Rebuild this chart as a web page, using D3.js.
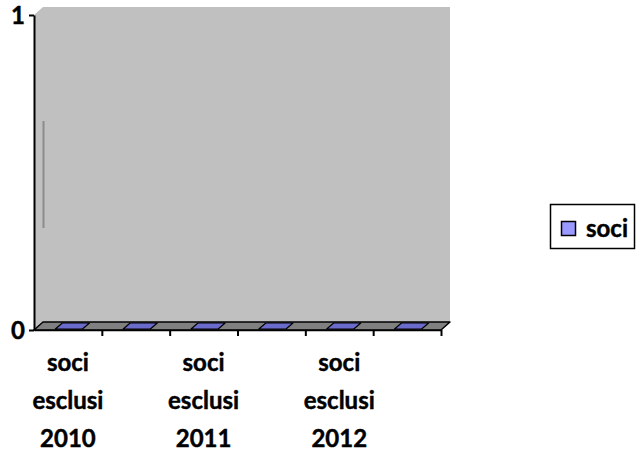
<!DOCTYPE html>
<html>
<head>
<meta charset="utf-8">
<script src="https://cdn.jsdelivr.net/npm/d3@7/dist/d3.min.js"></script>
<style>
  html, body { margin: 0; padding: 0; background: #fff; }
  svg { display: block; }
  text { font-family: Lato, "Open Sans", sans-serif; font-weight: bold; fill: #000; stroke: #000; stroke-width: 0.45px; }
</style>
</head>
<body>
<svg id="chart" width="636" height="456"></svg>
<script>
// ---- data ----
const categories = ["c1", "c2", "c3", "c4", "c5", "c6"];
const tickLabels = ["soci esclusi 2010", "", "soci esclusi 2011", "", "soci esclusi 2012", ""];
const seriesName = "soci";
const values = [0, 0, 0, 0, 0, 0];
const yTicks = [0, 1];

(function () {
// ---- layout ----
const plotL = 34, plotR = 441, plotB = 330, plotT = 15;
const depthX = 9, depthY = 8;

const svg = d3.select("#chart");

const x = d3.scaleBand().domain(categories).range([plotL, plotR]).paddingInner(0.6).paddingOuter(0.3);
const xEdge = d3.scaleLinear().domain([0, categories.length]).range([plotL, plotR]);
const y = d3.scaleLinear().domain([0, 1]).range([plotB, plotT]);

const line = d3.line();

// back wall
svg.append("path")
  .attr("d", line([[plotL + depthX, y(1) - depthY], [plotR + depthX, y(1) - depthY],
                   [plotR + depthX, y(0) - depthY], [plotL + depthX, y(0) - depthY]]) + "Z")
  .attr("fill", "#c0c0c0");
// side wall
svg.append("path")
  .attr("d", line([[plotL, y(1)], [plotL + depthX, y(1) - depthY],
                   [plotL + depthX, y(0) - depthY], [plotL, y(0)]]) + "Z")
  .attr("fill", "#c0c0c0");

// stray grey line on wall
svg.append("line")
  .attr("x1", plotL + depthX + 0.5).attr("x2", plotL + depthX + 0.5)
  .attr("y1", 121).attr("y2", 228)
  .attr("stroke", "#8c8c8c").attr("stroke-width", 2);

// floor
svg.append("path")
  .attr("d", line([[plotL, y(0)], [plotL + depthX, y(0) - depthY],
                   [plotR + depthX, y(0) - depthY], [plotR, y(0)]]) + "Z")
  .attr("fill", "#808080").attr("stroke", "#000").attr("stroke-width", 1.5)
  .attr("stroke-linejoin", "round");

// bars (zero-height: only the top face is visible)
const bfx = 1, bfy = 1, bbx = 8, bby = 7;
svg.append("g").selectAll("path").data(values).join("path")
  .attr("d", (d, i) => {
    const x0 = x(categories[i]), x1 = x0 + x.bandwidth(), yy = y(d);
    return line([[x0 + bfx, yy - bfy], [x1 + bfx, yy - bfy],
                 [x1 + bbx, yy - bby], [x0 + bbx, yy - bby]]) + "Z";
  })
  .attr("fill", "#6b6bcc").attr("stroke", "#000").attr("stroke-width", 1.2)
  .attr("stroke-linejoin", "round");

// x axis ticks at category boundaries
const xAxis = d3.axisBottom(xEdge)
  .tickValues(d3.range(1, categories.length + 1))
  .tickSize(6).tickSizeOuter(0).tickFormat("");
const gx = svg.append("g").attr("transform", `translate(0,${plotB})`).call(xAxis);
gx.select(".domain").attr("stroke", "#000").attr("stroke-width", 1.5);
gx.selectAll(".tick line").attr("stroke", "#000").attr("stroke-width", 2);

// y axis
const yAxis = d3.axisLeft(y).tickValues(yTicks).tickSize(5).tickSizeOuter(0).tickFormat(d3.format("d"));
const gy = svg.append("g").attr("transform", `translate(${plotL},0)`).call(yAxis);
gy.select(".domain").attr("stroke", "#000").attr("stroke-width", 2);
gy.selectAll(".tick line").attr("stroke", "#000").attr("stroke-width", 2);
gy.selectAll(".tick text")
  .attr("x", -9).attr("dy", "0.36em")
  .style("font-family", "Lato, sans-serif").style("font-weight", "bold")
  .style("font-size", "24px").attr("fill", "#000");

// category labels
const labG = svg.append("g");
tickLabels.forEach((lab, i) => {
  if (!lab) return;
  const cx = xEdge(i + 0.5);
  const parts = lab.split(" ");
  const t = labG.append("text").attr("text-anchor", "middle").attr("font-size", 24);
  parts.forEach((p, j) => {
    t.append("tspan").attr("x", cx).attr("y", 371 + j * 38).text(p);
  });
});

// legend
const lg = svg.append("g");
lg.append("rect").attr("x", 550.5).attr("y", 204.5).attr("width", 84).attr("height", 44)
  .attr("fill", "#fff").attr("stroke", "#000").attr("stroke-width", 1.5);
lg.append("rect").attr("x", 561.5).attr("y", 221.5).attr("width", 14).attr("height", 14)
  .attr("fill", "#9999ff").attr("stroke", "#000").attr("stroke-width", 1.5);
lg.append("text").attr("x", 586).attr("y", 237).attr("font-size", 24).text(seriesName);
})();
</script>
</body>
</html>
